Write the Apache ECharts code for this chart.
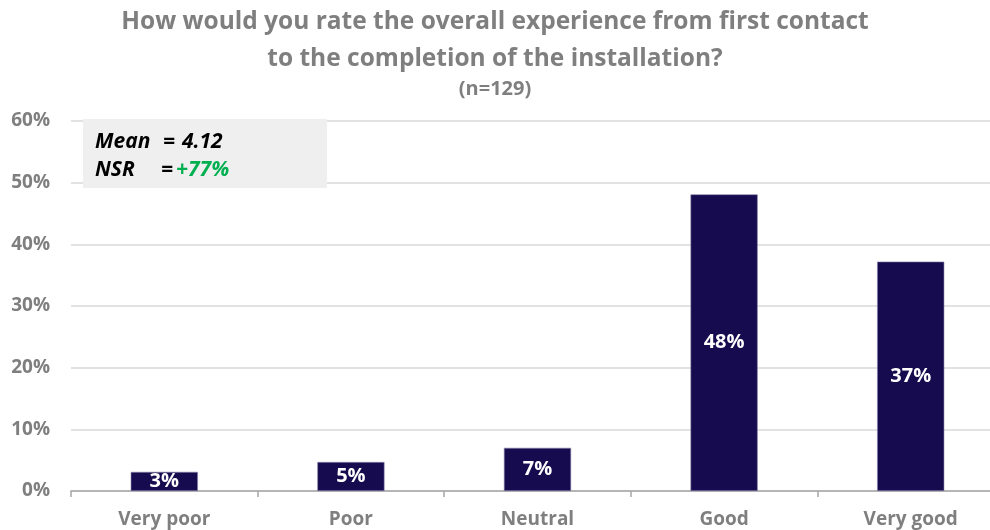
<!DOCTYPE html>
<html>
<head>
<meta charset="utf-8">
<script src="https://cdn.jsdelivr.net/npm/echarts@6/dist/echarts.min.js"></script>
<style>
  html, body { margin: 0; padding: 0; background: #ffffff; }
  #chart { width: 990px; height: 530px; }
</style>
</head>
<body>
<div id="chart"></div>
<script>
// Survey ratings, share of respondents (%)
const categories = ['Very poor', 'Poor', 'Neutral', 'Good', 'Very good'];
const shares = [3.1, 4.7, 7.0, 48.1, 37.2];
const yTicks = [0, 10, 20, 30, 40, 50, 60];
const meanScore = '4.12';
const nsrScore = '+77%';
const sampleSize = 129;

const FONT = '"Open Sans", Lato, sans-serif';
const GREY = '#7f7f7f';

// small helper for the summary-box texts
function boxText(x, y, text, color) {
  return {
    type: 'text', x: x, y: y, z: 11,
    style: {
      text: text, fill: color, verticalAlign: 'middle',
      fontFamily: FONT, fontStyle: 'italic', fontWeight: 'bold', fontSize: 21
    }
  };
}

const chart = echarts.init(document.getElementById('chart'), null, { renderer: 'canvas' });

chart.setOption({
  animation: false,
  backgroundColor: '#ffffff',
  title: [
    {
      text: 'How would you rate the overall experience from first contact\nto the completion of the installation?',
      left: 'center',
      top: 4,
      padding: 0,
      textStyle: { fontFamily: FONT, fontWeight: 'bold', fontSize: 24.5, lineHeight: 37, color: GREY }
    },
    {
      text: '(n=' + sampleSize + ')',
      left: 'center',
      top: 79,
      padding: 0,
      textStyle: { fontFamily: FONT, fontWeight: 'bold', fontSize: 20, lineHeight: 20, color: GREY }
    }
  ],
  // plot area runs past the right edge of the canvas
  grid: { left: 71, top: 121, width: 933, height: 370, containLabel: false, outerBoundsMode: 'none' },
  xAxis: {
    type: 'category',
    data: categories,
    axisLine: { lineStyle: { color: '#a6a6a6', width: 1.5 } },
    axisTick: { show: true, length: 6, alignWithLabel: false, lineStyle: { color: '#a6a6a6', width: 1.5 } },
    axisLabel: { margin: 19, color: GREY, fontFamily: FONT, fontWeight: 'bold', fontSize: 19 }
  },
  yAxis: {
    type: 'value',
    min: yTicks[0],
    max: yTicks[yTicks.length - 1],
    interval: 10,
    axisLine: { show: false },
    axisTick: { show: false },
    axisLabel: {
      margin: 21, color: GREY, fontFamily: FONT, fontWeight: 'bold', fontSize: 19,
      formatter: v => v + '%'
    },
    splitLine: { lineStyle: { color: '#d9d9d9', width: 1.5 } }
  },
  series: [{
    type: 'bar',
    data: shares,
    barWidth: '36%',
    itemStyle: { color: '#160b4f', borderColor: '#8a86ad', borderWidth: 0.6 },
    label: {
      show: true,
      position: 'inside',
      color: '#ffffff',
      fontFamily: FONT,
      fontWeight: 'bold',
      fontSize: 20,
      formatter: p => Math.round(p.value) + '%'
    }
  }],
  graphic: [
    {
      type: 'rect',
      left: 83, top: 119,
      shape: { width: 244, height: 69 },
      style: { fill: '#efefef' },
      z: 10
    },
    boxText(95, 142, 'Mean', '#000000'),
    boxText(163, 142, '=', '#000000'),
    boxText(182, 142, meanScore, '#000000'),
    boxText(95, 170, 'NSR', '#000000'),
    boxText(161, 170, '=', '#000000'),
    boxText(176, 170, nsrScore, '#00b050')
  ]
});
</script>
</body>
</html>
